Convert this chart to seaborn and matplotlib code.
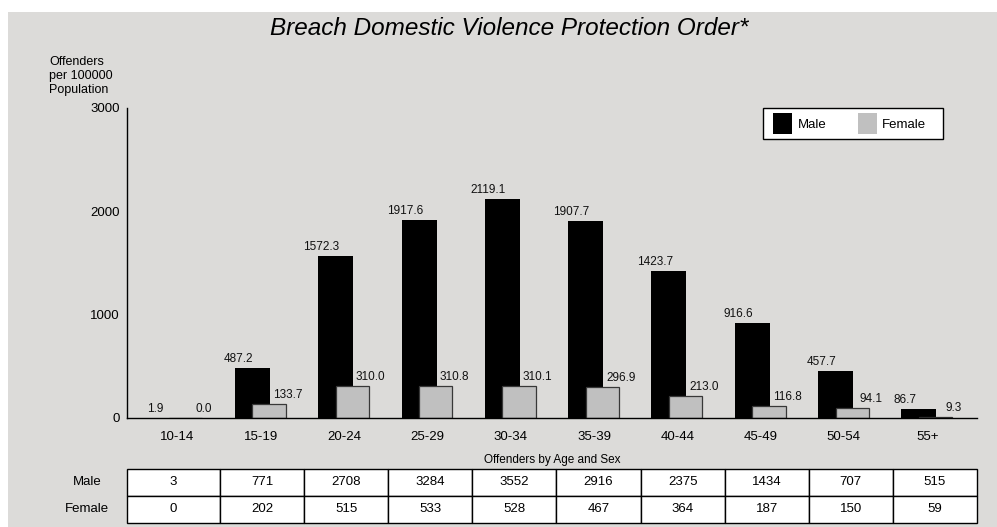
import numpy as np
import pandas as pd
import matplotlib
matplotlib.use("Agg")
import matplotlib.pyplot as plt
import seaborn as sns
from matplotlib.patches import Rectangle, Patch

# ---- data ----
age_groups = ["10-14", "15-19", "20-24", "25-29", "30-34",
              "35-39", "40-44", "45-49", "50-54", "55+"]
male_rate = [1.9, 487.2, 1572.3, 1917.6, 2119.1, 1907.7, 1423.7, 916.6, 457.7, 86.7]
female_rate = [0.0, 133.7, 310.0, 310.8, 310.1, 296.9, 213.0, 116.8, 94.1, 9.3]
male_count = [3, 771, 2708, 3284, 3552, 2916, 2375, 1434, 707, 515]
female_count = [0, 202, 515, 533, 528, 467, 364, 187, 150, 59]
yticks = [0, 1000, 2000, 3000]

title = "Breach Domestic Violence Protection Order*"
ylabel = "Offenders\nper 100000\nPopulation"
table_caption = "Offenders by Age and Sex"
series_names = ["Male", "Female"]

BG = "#DCDBD9"
MALE_C = "#000000"
FEMALE_C = "#C0C0C0"

sns.set_theme(style="white")
plt.rcParams['font.family'] = ['Liberation Sans', 'DejaVu Sans']
plt.rcParams.update({"text.color": "black", "axes.labelcolor": "black",
                     "xtick.color": "black", "ytick.color": "black",
                     "axes.edgecolor": "black"})

W, H = 997, 527
fig = plt.figure(figsize=(W / 100, H / 100), dpi=100, facecolor="white")
fig.patches.append(Rectangle((8 / W, 0), (W - 8) / W, 1 - 12 / H,
                             transform=fig.transFigure, facecolor=BG,
                             edgecolor="none", zorder=-10))

ax = fig.add_axes([127 / W, 1 - 418 / H, 850 / W, 310 / H])
ax.set_facecolor("none")

idx = np.arange(len(age_groups))
df_m = pd.DataFrame({"pos": idx - 0.1, "rate": male_rate})
df_f = pd.DataFrame({"pos": idx + 0.1, "rate": female_rate})

sns.barplot(data=df_m, x="pos", y="rate", native_scale=True, width=0.42,
            color=MALE_C, saturation=1, edgecolor="none", errorbar=None, ax=ax)
sns.barplot(data=df_f, x="pos", y="rate", native_scale=True, width=0.40,
            color=FEMALE_C, saturation=1, edgecolor="#383838", linewidth=0.9,
            errorbar=None, ax=ax)

# value labels
for i, v in enumerate(male_rate):
    ax.annotate(f"{v:.1f}", xy=(i - 0.27, v), xytext=(0, 4.3),
                textcoords="offset points", ha="center", va="baseline",
                fontsize=8.5, color="#111111")
for i, v in enumerate(female_rate):
    ax.annotate(f"{v:.1f}", xy=(i + 0.32, v), xytext=(0, 4.3),
                textcoords="offset points", ha="center", va="baseline",
                fontsize=8.5, color="#111111")

ax.set_xlim(-0.606, 9.598)
ax.set_ylim(0, 3000)
ax.set_xticks(idx)
ax.set_xticklabels(age_groups, fontsize=9.5)
ax.set_yticks(yticks)
ax.set_yticklabels([str(t) for t in yticks], fontsize=9.5)
ax.set_xlabel("")
ax.set_ylabel("")
ax.tick_params(axis="x", length=0, pad=9, colors="black")
ax.tick_params(axis="y", length=3.3, width=1, direction="out", pad=1.8, colors="black")
sns.despine(ax=ax)
for s in ["left", "bottom"]:
    ax.spines[s].set_color("black")
    ax.spines[s].set_linewidth(1)

# table
span = 9.598 + 0.606
col_widths = [(0.5 + 0.606) / span] + [1 / span] * 9
cell_text = [[str(v) for v in male_count], [str(v) for v in female_count]]
tbl = ax.table(cellText=cell_text, colWidths=col_widths, cellLoc="center",
               bbox=[0, (418 - 522.7) / 310, 1, (522.7 - 469) / 310])
tbl.auto_set_font_size(False)
tbl.set_fontsize(9.5)
for cell in tbl.get_celld().values():
    cell.set_facecolor("white")
    cell.set_edgecolor("black")
    cell.set_linewidth(1)
    cell.get_text().set_color("black")

row_y = [(418 - 482) / 310, (418 - 509) / 310]
for name, yy in zip(series_names, row_y):
    ax.text((87 - 127) / 850, yy, name, transform=ax.transAxes,
            ha="center", va="center", fontsize=9.5)

ax.text(0.5, (418 - 460) / 310, table_caption, transform=ax.transAxes,
        ha="center", va="center", fontsize=8.5)

# legend: white box with black border, entries inside
fig.patches.append(Rectangle((763 / W, 1 - 139 / H), 180 / W, 31 / H,
                             transform=fig.transFigure, facecolor="white",
                             edgecolor="black", linewidth=1, zorder=5))
handles = [Patch(facecolor=MALE_C, edgecolor="none"),
           Patch(facecolor=FEMALE_C, edgecolor="none")]
leg = fig.legend(handles, series_names, loc="center left",
                 bbox_to_anchor=(773 / W, 1 - 123.5 / H), ncol=2, fontsize=9.5,
                 frameon=False, handlelength=1.45, handleheight=2.0,
                 handletextpad=0.4, columnspacing=2.4,
                 borderpad=0, borderaxespad=0)
leg.set_zorder(6)

fig.text(509 / W, 1 - 28.7 / H, title, ha="center", va="center",
         fontsize=17.5, style="italic")
fig.text(49 / W, 1 - 56 / H, ylabel, ha="left", va="top", fontsize=9,
         linespacing=1.2)

fig.savefig("out.png", dpi=100, facecolor="white")
